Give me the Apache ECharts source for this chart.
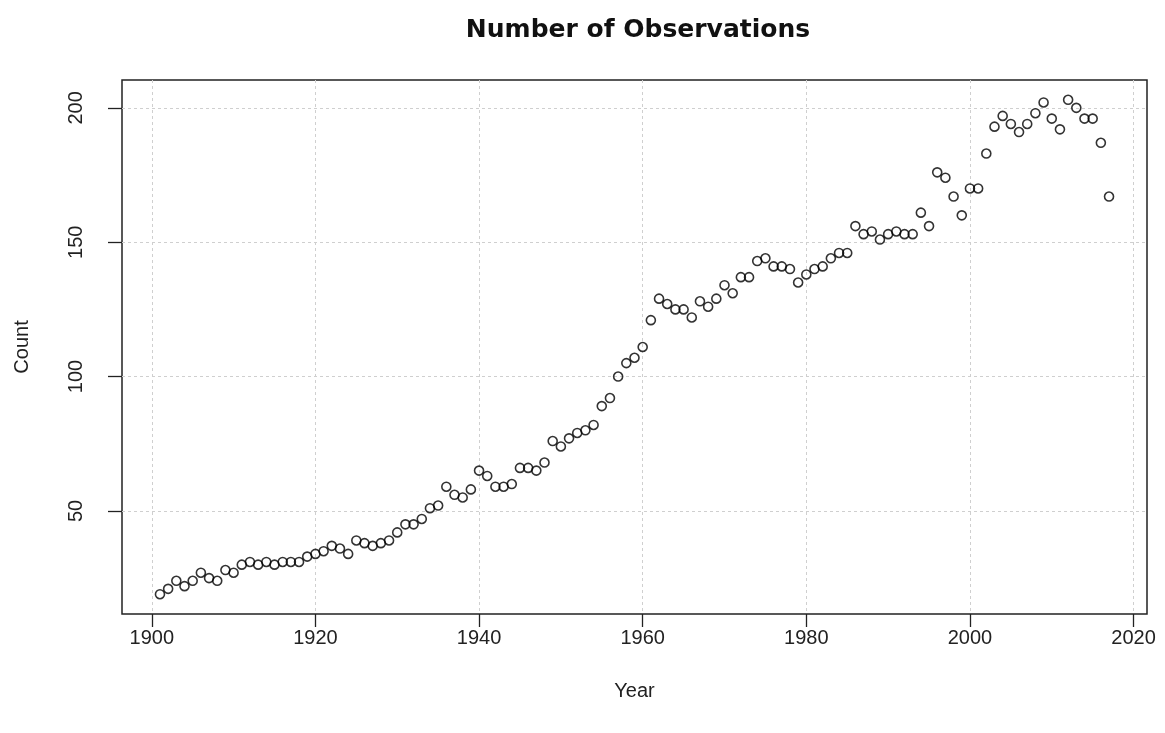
<!DOCTYPE html>
<html>
<head>
<meta charset="utf-8">
<script src="https://cdn.jsdelivr.net/npm/echarts@6/dist/echarts.min.js"></script>
<style>
html,body{margin:0;padding:0;background:#fff;}
#chart{width:1165px;height:733px;}
</style>
</head>
<body>
<div id="chart"></div>
<script>
const years = [];
for (let y = 1901; y <= 2017; y++) years.push(y);
const counts = [
  19,21,24,22,24,27,25,24,28,27,
  30,31,30,31,30,31,31,31,33,34,
  35,37,36,34,39,38,37,38,39,42,
  45,45,47,51,52,59,56,55,58,65,
  63,59,59,60,66,66,65,68,76,74,
  77,79,80,82,89,92,100,105,107,111,
  121,129,127,125,125,122,128,126,129,134,
  131,137,137,143,144,141,141,140,135,138,
  140,141,144,146,146,156,153,154,151,153,
  154,153,153,161,156,176,174,167,160,170,
  170,183,193,197,194,191,194,198,202,196,
  192,203,200,196,196,187,167
];
const xTicks = [1900,1920,1940,1960,1980,2000,2020];
const yTicks = [50,100,150,200];

const points = years.map((y, i) => [y, counts[i]]);
const xMin = Math.min(...years), xMax = Math.max(...years);
const yMin = Math.min(...counts), yMax = Math.max(...counts);
const xPad = (xMax - xMin) * 0.04, yPad = (yMax - yMin) * 0.04;

const chart = echarts.init(document.getElementById('chart'), null, {renderer: 'canvas'});
const labelFont = {fontFamily: 'Liberation Sans, Arial, sans-serif', fontSize: 20, color: '#222'};
chart.setOption({
  animation: false,
  backgroundColor: '#ffffff',
  title: {
    text: 'Number of Observations',
    left: 633, top: 13, textAlign: 'center',
    textStyle: {fontFamily: 'DejaVu Sans, sans-serif', fontWeight: 'bold', fontSize: 25, color: '#111'}
  },
  grid: {
    left: 122, right: 18, top: 80, bottom: 119,
    show: true, borderColor: '#222', borderWidth: 1.5, backgroundColor: 'transparent'
  },
  xAxis: {
    type: 'value',
    min: xMin - xPad, max: xMax + xPad,
    name: 'Year', nameLocation: 'middle', nameGap: 67,
    nameTextStyle: Object.assign({}, labelFont),
    axisLine: {show: false},
    axisTick: {show: true, length: 13, customValues: xTicks, lineStyle: {color: '#222', width: 1.3}},
    axisLabel: Object.assign({customValues: xTicks, margin: 14, formatter: v => String(v)}, labelFont),
    splitLine: {show: true, lineStyle: {color: '#cfcfcf', type: [3, 3], width: 1}}
  },
  yAxis: {
    type: 'value',
    min: yMin - yPad, max: yMax + yPad,
    name: 'Count', nameLocation: 'middle', nameGap: 90, nameRotate: 90,
    nameTextStyle: Object.assign({}, labelFont),
    axisLine: {show: false},
    axisTick: {show: true, length: 14, customValues: yTicks, lineStyle: {color: '#222', width: 1.3}},
    axisLabel: Object.assign({customValues: yTicks, margin: 36, rotate: 90, formatter: v => String(v)}, labelFont),
    splitLine: {show: true, lineStyle: {color: '#cfcfcf', type: [3, 3], width: 1}}
  },
  series: [{
    type: 'scatter',
    data: points,
    symbol: 'circle',
    symbolSize: 9,
    itemStyle: {color: 'rgba(0,0,0,0)', borderColor: '#000', borderWidth: 1.6}
  }]
});
</script>
</body>
</html>
